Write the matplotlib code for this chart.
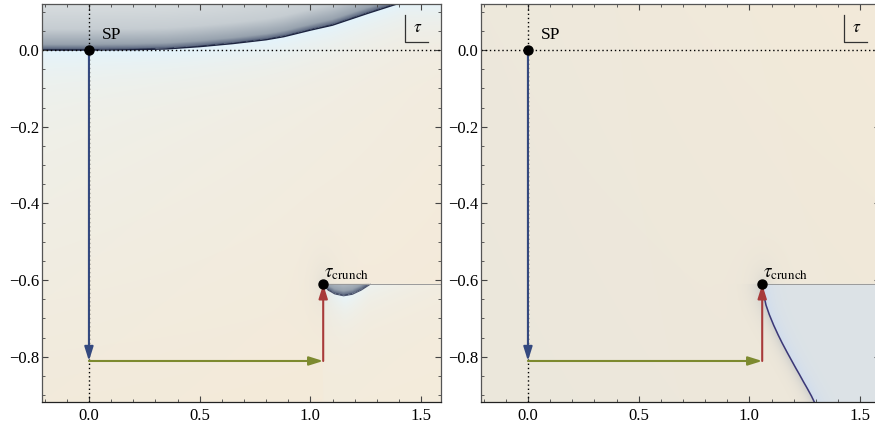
import numpy as np
import matplotlib
matplotlib.use("Agg")
import matplotlib.pyplot as plt
from matplotlib.colors import LinearSegmentedColormap, to_rgb
from matplotlib.ticker import MultipleLocator

plt.rcParams["font.family"] = ["Liberation Serif", "DejaVu Serif"]
plt.rcParams["mathtext.fontset"] = "stix"

# --- axes range ---
X_LIM = (-0.212, 1.59)
Y_LIM = (-0.918, 0.121)

# --- marked points ---
sp_pt = (0.0, 0.0)
crunch_pt = (1.058, -0.611)
turn_y = -0.811

# --- branch cut / dark ridge curves ---
top_x = [-0.212, 0.0, 0.20, 0.35, 0.50, 0.65, 0.80, 0.88, 1.00, 1.10, 1.26, 1.39, 1.45]
top_y = [0.0, 0.0, 0.001, 0.003, 0.009, 0.017, 0.027, 0.035, 0.052, 0.065, 0.096, 0.120, 0.13]

bump_x = [1.058, 1.08, 1.11, 1.15, 1.19, 1.23, 1.27]
bump_y = [-0.611, -0.626, -0.636, -0.641, -0.637, -0.626, -0.611]

ridge_x = [1.058, 1.062, 1.075, 1.09, 1.11, 1.13, 1.148, 1.17, 1.19, 1.21, 1.225, 1.245, 1.26, 1.28, 1.295]
ridge_y = [-0.611, -0.630, -0.665, -0.690, -0.718, -0.743, -0.764, -0.788, -0.809, -0.830, -0.845, -0.866, -0.881, -0.902, -0.920]

dark_cmap = LinearSegmentedColormap.from_list(
    "dark", [(0, "#2a3350"), (0.02, "#5f6b83"), (0.12, "#97a2ae"), (0.45, "#c6cdd2"), (1, "#d8dddf")])


def rgb(h):
    return np.array(to_rgb(h))


def blend(img, col, w):
    w = np.clip(w, 0, 1)[..., None]
    return img * (1 - w) + rgb(col) * w


def base_image(X, Y, bl, br, tl, tr):
    u = ((X - X_LIM[0]) / (X_LIM[1] - X_LIM[0]))[..., None]
    v = ((Y - Y_LIM[0]) / (Y_LIM[1] - Y_LIM[0]))[..., None]
    return (rgb(bl) * (1 - u) * (1 - v) + rgb(br) * u * (1 - v)
            + rgb(tl) * (1 - u) * v + rgb(tr) * u * v)


xs = np.linspace(*X_LIM, 700)
ys = np.linspace(*Y_LIM, 500)
X, Y = np.meshgrid(xs, ys)

# ---------- left panel field ----------
img_l = base_image(X, Y, "#f2eadb", "#f5ead8", "#eef2ee", "#f2ece0")
d = Y - np.interp(X, top_x, top_y)
img_l = blend(img_l, "#e2f4fe", 0.95 * np.exp(np.minimum(d, 0) / 0.06) * (d <= 0))
dark = dark_cmap(np.clip(d / 0.12, 0, 1))[..., :3]
img_l = np.where((d > 0)[..., None], dark, img_l)

below_cut = (Y < crunch_pt[1]) & (X > crunch_pt[0])
cb = np.interp(X, bump_x, bump_y)
in_bump = below_cut & (X < bump_x[-1]) & (Y > cb)
img_l = blend(img_l, "#eeefe9", 0.2 * below_cut)
glow = np.exp(-np.abs(cb - Y) / 0.05) * np.exp(-np.abs(X - 1.16) / 0.22)
img_l = blend(img_l, "#e8f7fe", 0.95 * glow * below_cut)
bump_col = dark_cmap(np.clip((Y - cb) / 0.03 * 0.3, 0, 1))[..., :3]
img_l = np.where(in_bump[..., None], bump_col, img_l)
# slight shadow left of the crunch point
sh = np.exp(-np.hypot(X - crunch_pt[0], (Y - crunch_pt[1]) * 0.8) / 0.04)
img_l = blend(img_l, "#c9cdcc", 0.35 * sh * (~in_bump))

# ---------- right panel field ----------
img_r = base_image(X, Y, "#ebe7dc", "#efe8da", "#ede8dc", "#f3ead9")
cr = np.interp(Y, ridge_y[::-1], ridge_x[::-1])
dx = X - cr
low = Y < crunch_pt[1]
right_side = low & (dx > 0)
img_r = np.where(right_side[..., None], rgb("#dde3e6"), img_r)
img_r = blend(img_r, "#cfdcef", 0.9 * np.exp(-dx / 0.04) * right_side)
img_r = blend(img_r, "#aeb6bf", 0.6 * np.exp(dx / 0.03) * low * (dx <= 0))
sh = np.exp(-np.hypot(X - crunch_pt[0], (Y - crunch_pt[1])) / 0.035)
img_r = blend(img_r, "#c4c8c8", 0.45 * sh * (~right_side))

fig = plt.figure(figsize=(8.75, 4.23), dpi=100)
axes = [fig.add_axes([42 / 875, 21 / 423, 399 / 875, 398.3 / 423]),
        fig.add_axes([481 / 875, 21 / 423, 399 / 875, 398.3 / 423])]

for ax, img, side in zip(axes, [img_l, img_r], ["left", "right"]):
    ax.imshow(img, extent=[*X_LIM, *Y_LIM], origin="lower", aspect="auto",
              interpolation="bilinear", zorder=0)
    ax.set_xlim(*X_LIM)
    ax.set_ylim(*Y_LIM)

    if side == "left":
        ax.plot(top_x, top_y, color="#1d2440", lw=1.0, zorder=1)
        ax.plot(bump_x, bump_y, color="#2a3250", lw=0.8, alpha=0.8, zorder=1)
    else:
        ax.plot(ridge_x, ridge_y, color="#3a3778", lw=1.1, zorder=1)
    # branch cut
    ax.plot([crunch_pt[0], X_LIM[1]], [crunch_pt[1], crunch_pt[1]],
            color="#9a9a9a", lw=0.7, zorder=1)

    # dotted axes through the saddle point
    ax.axvline(0, color="black", lw=1.0, ls=(0, (1, 2)), zorder=2)
    ax.axhline(0, color="black", lw=1.0, ls=(0, (1, 2)), zorder=2)

    # contour: down, across, up
    arrow = "-|>,head_length=0.7,head_width=0.22"
    segs = [((0, 0), (0, turn_y), "#34497f"),
            ((0, turn_y), (crunch_pt[0], turn_y), "#7d8a2f"),
            ((crunch_pt[0], turn_y), crunch_pt, "#a83a3a")]
    for start, end, col in segs:
        ax.annotate("", xy=end, xytext=start,
                    arrowprops=dict(arrowstyle=arrow, color=col, lw=1.5,
                                    shrinkA=0, shrinkB=0, mutation_scale=12),
                    zorder=3)

    ax.plot(*sp_pt, "o", color="black", ms=6.5, zorder=4)
    ax.plot(*crunch_pt, "o", color="black", ms=6.5, zorder=4)
    ax.text(0.06, 0.039, "SP", fontsize=12.5, ha="left", va="center", zorder=4)
    ax.text(1.063, -0.583, r"$\tau_{\mathrm{crunch}}$", fontsize=13.5,
            ha="left", va="center", zorder=4)

    # tau inset marker
    ax.plot([0.91, 0.91, 0.967], [0.972, 0.904, 0.904], color="#333333",
            lw=0.9, transform=ax.transAxes, zorder=4)
    ax.text(0.941, 0.94, r"$\tau$", fontsize=12.5, ha="center", va="center",
            transform=ax.transAxes, zorder=4)

    ax.xaxis.set_major_locator(MultipleLocator(0.5))
    ax.xaxis.set_minor_locator(MultipleLocator(0.1))
    ax.yaxis.set_major_locator(MultipleLocator(0.2))
    ax.yaxis.set_minor_locator(MultipleLocator(0.05))
    ax.xaxis.set_major_formatter(lambda v, p: f"{v:.1f}".replace("-", "\u2212"))
    ax.yaxis.set_major_formatter(lambda v, p: f"{v:.1f}".replace("-", "\u2212"))
    ax.tick_params(which="both", direction="in", top=True, right=True,
                   color="#444444", labelsize=12)
    ax.tick_params(which="major", length=4, width=0.8)
    ax.tick_params(which="minor", length=2.3, width=0.6)
    ax.tick_params(axis="x", pad=4)
    ax.tick_params(axis="y", pad=2)
    for s in ax.spines.values():
        s.set_color("#555555")
        s.set_linewidth(0.9)
    ax.spines["bottom"].set_color("#222222")

fig.savefig("out.png", dpi=100)
